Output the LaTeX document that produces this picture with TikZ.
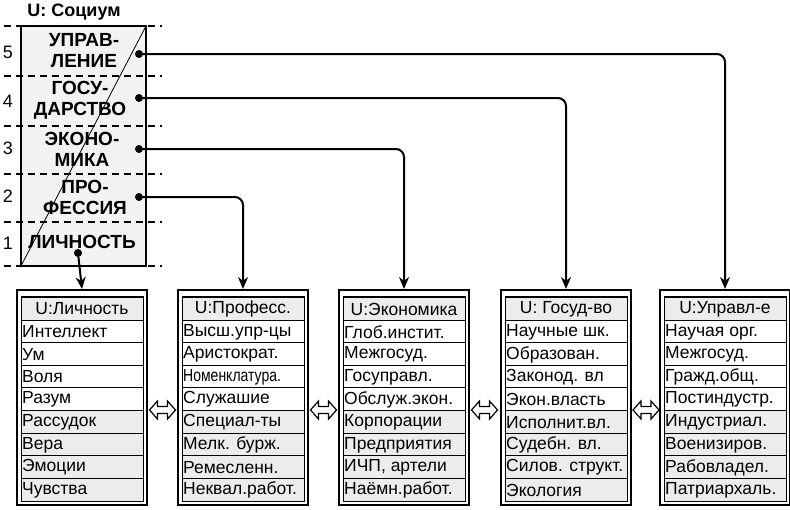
\documentclass[tikz,border=0pt]{standalone}
\usepackage{fontspec}
\setmainfont{Liberation Sans}
\usetikzlibrary{arrows.meta}
\begin{document}
\begin{tikzpicture}[x=1pt,y=-1pt,
  conn/.style={line width=2pt,rounded corners=8pt,-{Stealth[length=12pt,width=10pt]}},
  dot/.style={circle,fill=black,inner sep=0pt,minimum size=8pt},
  row/.style={anchor=west,font=\fontsize{17.5}{19}\selectfont,inner sep=2pt},
  hdr/.style={font=\fontsize{17.5}{19}\selectfont,inner sep=0pt},
  big/.style={font=\bfseries\fontsize{19}{21}\selectfont,align=center,inner sep=0pt},
  num/.style={font=\fontsize{18}{20}\selectfont,inner sep=0pt},
  dsh/.style={line width=1.2pt,dash pattern=on 7pt off 5pt}]
\useasboundingbox (0,0) rectangle (790,509);
% top box
\fill[gray!10] (21,26) rectangle (146,266);
\foreach \y in {26,76,126,174,222,266} \draw[dsh] (4,\y) -- (162,\y);
\draw[line width=1.4pt] (21,26) rectangle (146,266);
\draw[line width=0.8pt] (21,266) -- (146,26);
\node[font=\bfseries\fontsize{18}{20}\selectfont] (title) at (74,12) {U: Социум};
\node[num] (n5) at (8,52) {5};
\node[num] (n4) at (8,101) {4};
\node[num] (n3) at (8,148) {3};
\node[num] (n2) at (8,196) {2};
\node[num] (n1) at (8,243) {1};
\node[big] (t5) at (84,51) {УПРАВ-\\ЛЕНИЕ};
\node[big] (t4) at (80,100) {ГОСУ-\\ДАРСТВО};
\node[big] (t3) at (82,149) {ЭКОНО-\\МИКА};
\node[big] (t2) at (85,197) {ПРО-\\ФЕССИЯ};
\node[big] (t1) at (82,242) {ЛИЧНОСТЬ};
\node[dot] (d5) at (139,54) {};
\node[dot] (d4) at (139,98) {};
\node[dot] (d3) at (139,149) {};
\node[dot] (d2) at (139,197) {};
\node[dot] (d1) at (78,253) {};
% boxes
\newcommand\ubox[4]{%
  \coordinate (#1top) at (#2+65,289);
  \fill[gray!15] (#2+4,297) rectangle (#2+126,320);
  \fill[gray!15] (#2+4,410.4) rectangle (#2+126,501);
  \draw[line width=2.4pt] (#2,290) rectangle (#2+130,505);
  \draw[line width=0.9pt] (#2+4,296) rectangle (#2+126,501);
  \draw[line width=0.8pt] (#2+4,297) -- (#2+126,297);
  \node[hdr] (#1h) at (#2+65,309) {#3};
  \foreach \t [count=\i] in {#4} {
    \draw[line width=0.8pt] (#2+4,320+\i*22.6-22.6) -- (#2+126,320+\i*22.6-22.6);
    \node[row] (#1r\i) at (#2+3,331.8+\i*22.6-22.6) {\t};
  }}
\ubox{b1}{17}{U:Личность}{Интеллект,Ум,Воля,Разум,Рассудок,Вера,Эмоции,Чувства}
\ubox{b2}{178}{U:Професс.}{Высш.упр-цы,Аристократ.,{\fontsize{17.5}{19}\selectfont\scalebox{0.8}[1]{Номенклатура.}},Служашие,Специал-ты,Мелк. бурж.,Ремесленн.,Неквал.работ.}
\ubox{b3}{339}{U:Экономика}{Глоб.инстит.,Межгосуд.,Госуправл.,Обслуж.экон.,Корпорации,Предприятия,{ИЧП, артели},Наёмн.работ.}
\ubox{b4}{501}{U: Госуд-во}{Научные шк.,Образован.,Законод. вл,Экон.власть,Исполнит.вл.,Судебн. вл.,Силов. структ.,Экология}
\ubox{b5}{660}{U:Управл-е}{Научая орг.,Межгосуд.,Гражд.общ.,Постиндустр.,Индустриал.,Военизиров.,Рабовладел.,Патриархаль.}
% connectors
\draw[conn] (d1) -- (b1top);
\draw[conn] (d2) -| (b2top);
\draw[conn] (d3) -| (b3top);
\draw[conn] (d4) -| (b4top);
\draw[conn] (d5) -| (b5top);
% hollow double arrows
\newcommand\dbl[1]{%
  \draw[line width=1.2pt,fill=white] (#1+0,410) -- (#1+8,401) -- (#1+8,406.5) -- (#1+18,406.5) -- (#1+18,401) -- (#1+26,410) -- (#1+18,419) -- (#1+18,413.5) -- (#1+8,413.5) -- (#1+8,419) -- cycle;}
\dbl{149.5}
\dbl{310.5}
\dbl{471.5}
\dbl{633}
\end{tikzpicture}
\end{document}
